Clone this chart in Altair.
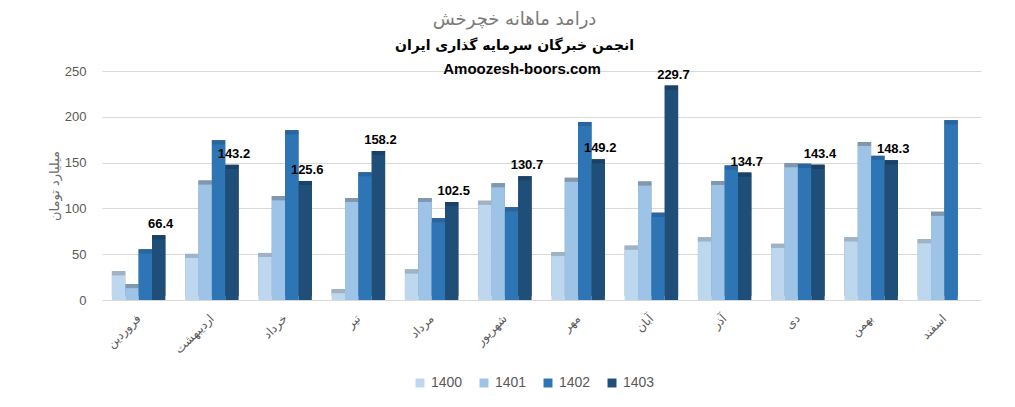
import altair as alt
import pandas as pd

months = ['فروردین', 'اردیبهشت', 'خرداد', 'تیر', 'مرداد', 'شهریور',
          'مهر', 'آبان', 'آذر', 'دی', 'بهمن', 'اسفند']
years = ['1400', '1401', '1402', '1403']

v1400 = [27, 46, 47, 7.5, 29, 104, 48, 55, 64, 57, 64, 62]
v1401 = [13, 126, 109, 107, 107, 123, 129, 125, 125.5, 145, 168, 92]
v1402 = [51, 170, 181, 135, 85, 97, 190, 91, 142.5, 144.5, 153, 192]
v1403 = [66.4, 143.2, 125.6, 158.2, 102.5, 130.7, 149.2, 229.7, 134.7, 143.4, 148.3, None]

series = {'1400': v1400, '1401': v1401, '1402': v1402, '1403': v1403}
rows = []
for yr in years:
    for m, v in zip(months, series[yr]):
        if v is not None:
            rows.append({'month': m, 'year': yr, 'value': v})
df = pd.DataFrame(rows)

front_colors = ['#BDD7EE', '#9DC3E6', '#2E75B6', '#1F4E79']
top_colors = ['#9FB3C5', '#8097AE', '#2A65A0', '#1A4268']
side_colors = ['#8497A8', '#6A829A', '#215A8C', '#15314D']

x_enc = alt.X('month:N', sort=months, title=None,
              scale=alt.Scale(paddingInner=0.27, paddingOuter=0.135),
              axis=alt.Axis(labelAngle=-45, labelAlign='right', labelBaseline='middle',
                            labelFont='DejaVu Sans', labelFontSize=12, labelColor='#595959',
                            labelPadding=16, domain=False, ticks=False, grid=False))
xo_enc = alt.XOffset('year:N', sort=years,
                     scale=alt.Scale(domain=years, paddingInner=0, paddingOuter=0))
y_enc = alt.Y('value:Q', scale=alt.Scale(domain=[0, 250]),
              title='میلیارد تومان',
              axis=alt.Axis(values=[0, 50, 100, 150, 200, 250], domain=False, ticks=False,
                            labelFont='Liberation Sans', labelFontSize=13, labelColor='#595959',
                            labelPadding=16, gridColor='#d9d9d9', gridWidth=1,
                            titleFont='DejaVu Sans', titleFontSize=13, titleFontWeight='normal',
                            titleColor='#6b6b6b', titlePadding=3))

base = alt.Chart(df).encode(x=x_enc, xOffset=xo_enc, y=y_enc)

side = base.mark_bar(xOffset=4, yOffset=-4).encode(
    color=alt.Color('year:N', scale=alt.Scale(domain=years, range=side_colors), legend=None))
top = base.mark_bar(xOffset=2, yOffset=-4).encode(
    y2=alt.Y2('value:Q'),
    color=alt.Color('year:N', scale=alt.Scale(domain=years, range=top_colors), legend=None))
front = base.mark_bar().encode(
    color=alt.Color('year:N', scale=alt.Scale(domain=years, range=front_colors),
                    legend=alt.Legend(title=None, orient='none', legendX=311, legendY=305,
                                      direction='horizontal', symbolType='square',
                                      symbolSize=80, symbolStrokeWidth=0,
                                      labelFont='Liberation Sans', labelFontSize=14,
                                      labelColor='#595959', columnPadding=14)))

labels = alt.Chart(df[df['year'] == '1403']).mark_text(
    dy=-15, dx=2, font='Liberation Sans', fontWeight='bold', fontSize=13, color='black'
).encode(x=x_enc, xOffset=xo_enc, y=y_enc, text=alt.Text('value:Q', format='.1f'))

site = alt.Chart(pd.DataFrame({'t': ['Amoozesh-boors.com']})).mark_text(
    font='Liberation Sans', fontWeight='bold', fontSize=15, color='black'
).encode(x=alt.value(420), y=alt.value(-2), text='t:N')

chart = alt.layer(side, top, front, labels, site).resolve_scale(color='independent').properties(
    width=879, height=229,
    autosize=alt.AutoSizeParams(type='none'),
    padding={'left': 94, 'top': 63, 'right': 20, 'bottom': 104},
    title=alt.TitleParams(text='درامد ماهانه خچرخش',
                          subtitle='انجمن خبرگان سرمایه گذاری ایران',
                          anchor='middle', dx=-27, offset=9,
                          font='DejaVu Sans', fontSize=18, fontWeight='normal', color='#7a7a7a',
                          subtitleFont='DejaVu Sans', subtitleFontSize=14,
                          subtitleFontWeight='bold', subtitleColor='black',
                          subtitlePadding=10)
).configure_view(stroke=None)

chart.save("out.html", embed_options={"renderer": "svg", "actions": False})
